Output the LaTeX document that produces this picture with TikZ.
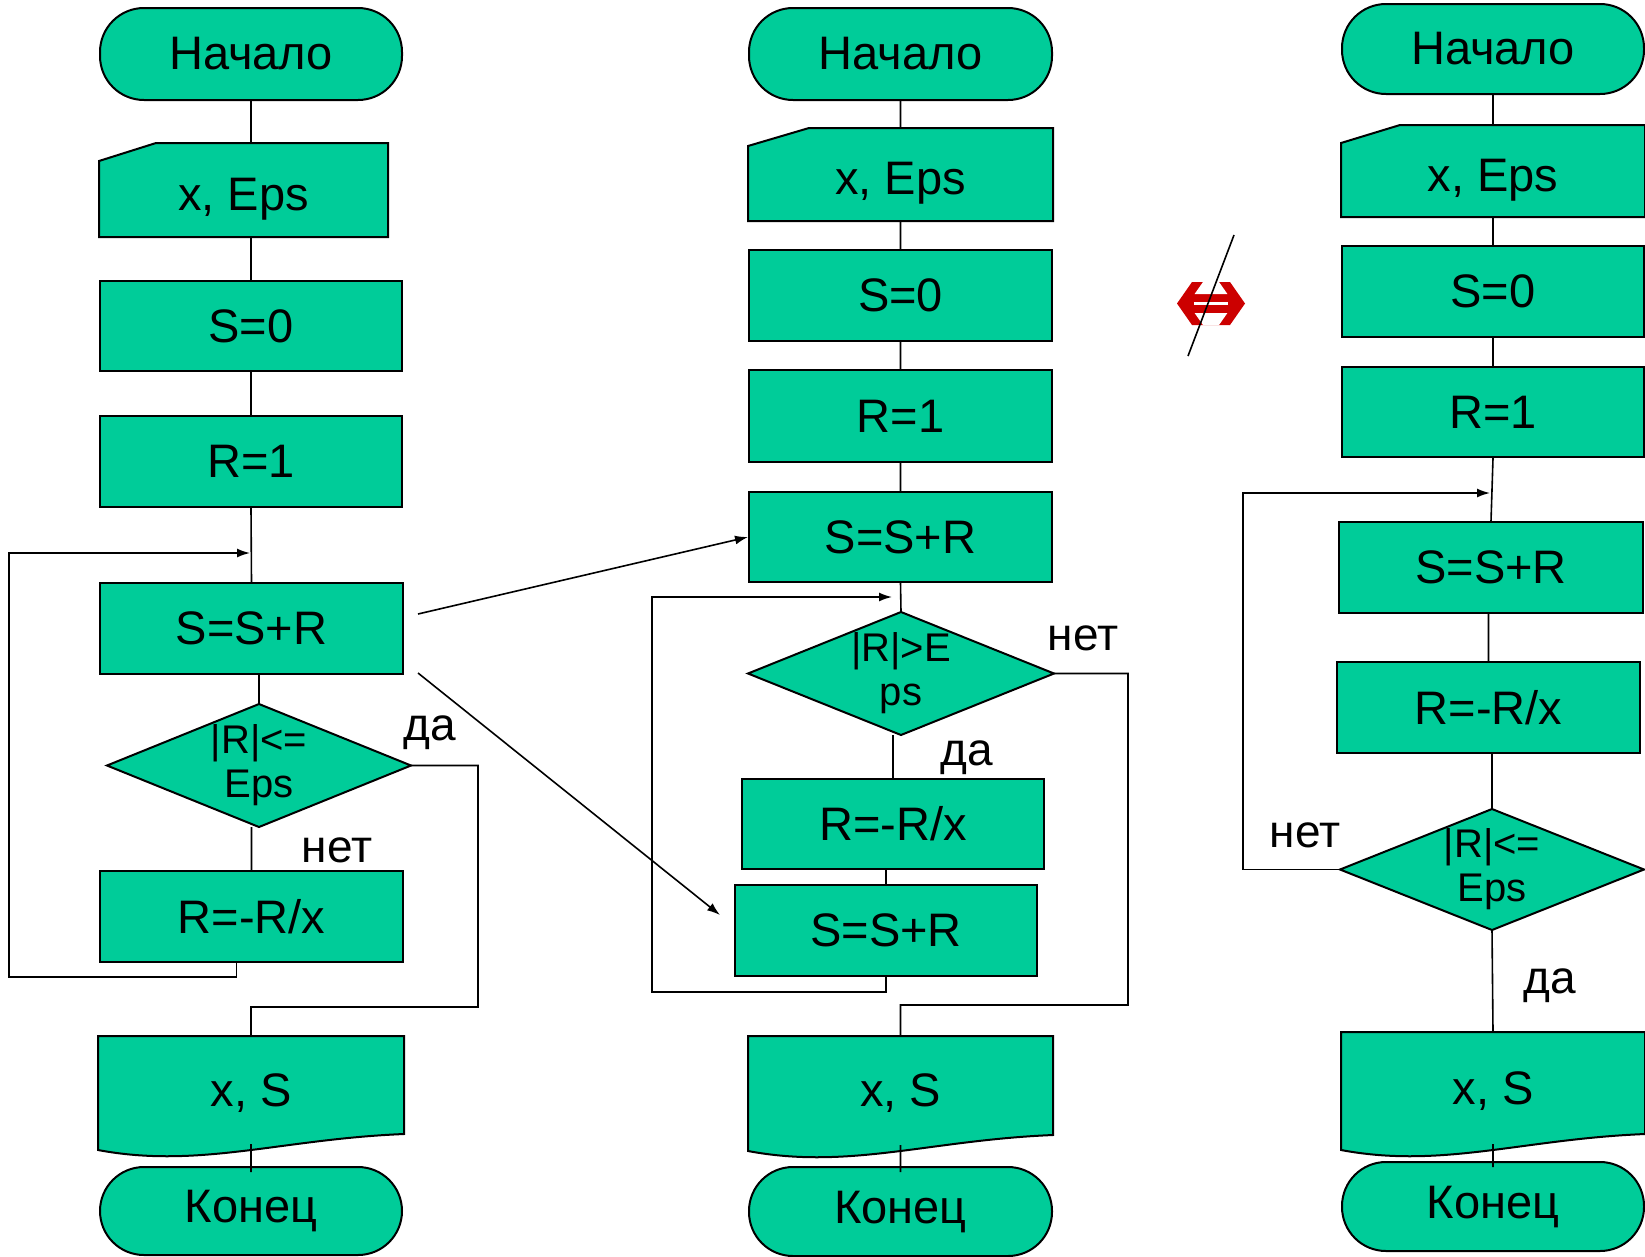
\documentclass[tikz,border=0pt]{standalone}
\usepackage{fontspec}
\setmainfont{Liberation Sans}
\usepackage{tikz}
\usetikzlibrary{positioning, arrows.meta}
\pgfdeclarelayer{bg}
\pgfsetlayers{bg,main}
\definecolor{blockgreen}{RGB}{0,204,153}
\definecolor{signred}{RGB}{204,0,0}

\tikzset{
  box/.style={draw, fill=blockgreen, line width=2pt, minimum width=302pt,
    minimum height=90pt, inner sep=0pt, font=\fontsize{47}{52}\selectfont},
  term/.style={box, rounded corners=44pt},
  hollow/.style={box, draw=none, fill=none},
  cond/.style={hollow, align=center, font=\fontsize{40}{44}\selectfont},
  lbl/.style={inner sep=0pt, font=\fontsize{46}{50}\selectfont},
  flow/.style={line width=1.6pt},
  arr/.style={flow, -{Latex[length=13pt, width=9pt]}},
}

\newcommand{\cardshape}[3]{%
  \draw[line width=2pt, fill=blockgreen]
    (#1.south west) -- (#1.north west) -- ([shift={(#3,-#2)}]#1.north west)
    -- ([shift={(0,-#2)}]#1.north east) -- (#1.south east) -- cycle;
  \coordinate (#1-top) at ([shift={(0,-#2)}]#1.north);
}
\newcommand{\docshape}[2]{%
  \draw[line width=2pt, fill=blockgreen]
    (#1.south west) -- (#1.north west) -- (#1.north east) -- ([shift={(0,-#2)}]#1.south east)
    .. controls ([shift={(-123,-11)}]#1.south east) and ([shift={(101,19)}]#1.south west) .. (#1.south west)
    -- cycle;
}
\newcommand{\decshape}[1]{%
  \draw[line width=2pt, fill=blockgreen] (#1.west) -- (#1.north) -- (#1.east) -- (#1.south) -- cycle;
}

\begin{document}
\begin{tikzpicture}[x=1pt, y=-1pt]
  \useasboundingbox (0,0) rectangle (1645,1256);

  \node[term, minimum height=92pt] (start1) at (251,54) {Начало};
  \node[hollow, minimum width=287pt, minimum height=74pt] (in1) at (243.5,199) {x, Eps};
  \node[box] (init1) at (251,326) {S=0};
  \node[box, minimum height=91pt] (r1) at (251,461.5) {R=1};
  \node[box, minimum width=303pt, minimum height=91pt] (sum1) at (251.5,628.5) {S=S+R};
  \node[cond, minimum height=121pt] (dec1) at (259,765.5) {|R|<=\\Eps};
  \node[box, minimum width=303pt, minimum height=91pt] (div1) at (251.5,916.5) {R=-R/x};
  \node[hollow, minimum width=304pt, minimum height=112pt] (out1) at (251,1093) {x, S};
  \node[term, minimum height=88pt] (end1) at (251,1211) {Конец};

  \node[term, minimum width=303pt, minimum height=92pt] (start2) at (900.5,54) {Начало};
  \node[hollow, minimum width=303pt, minimum height=73pt] (in2) at (900.5,183.5) {x, Eps};
  \node[box, minimum width=303pt, minimum height=91pt] (init2) at (900.5,295.5) {S=0};
  \node[box, minimum width=303pt, minimum height=92pt] (r2) at (900.5,416) {R=1};
  \node[box, minimum width=303pt] (sum2a) at (900.5,537) {S=S+R};
  \node[cond, minimum width=304pt, minimum height=121pt] (dec2) at (901,673.5) {|R|>E\\ps};
  \node[box] (div2) at (893,824) {R=-R/x};
  \node[box, minimum height=91pt] (sum2b) at (886,930.5) {S=S+R};
  \node[hollow, minimum width=303pt, minimum height=113pt] (out2) at (900.5,1093.5) {x, S};
  \node[term, minimum width=303pt, minimum height=89pt] (end2) at (900.5,1211.5) {Конец};

  \node[term] (start3) at (1493,49) {Начало};
  \node[hollow, minimum height=72pt] (in3) at (1493,180) {x, Eps};
  \node[box, minimum height=91pt] (init3) at (1493,291.5) {S=0};
  \node[box] (r3) at (1493,412) {R=1};
  \node[box, minimum width=304pt, minimum height=91pt] (sum3) at (1491,567.5) {S=S+R};
  \node[box, minimum width=303pt, minimum height=91pt] (div3) at (1488.5,707.5) {R=-R/x};
  \node[cond, minimum height=119pt] (dec3) at (1492,869.5) {|R|<=\\Eps};
  \node[hollow, minimum height=116pt] (out3) at (1493,1091) {x, S};
  \node[term, minimum height=89pt] (end3) at (1493,1206.5) {Конец};

  \begin{pgfonlayer}{bg}
    \cardshape{in1}{18}{57}
    \cardshape{in2}{18}{61}
    \cardshape{in3}{18}{59}
    \decshape{dec1}
    \decshape{dec2}
    \decshape{dec3}
    \docshape{out1}{16}
    \docshape{out2}{16}
    \docshape{out3}{16}
  \end{pgfonlayer}

  \node[lbl] (yes1) at (430,733) {да};
  \node[lbl] (no1) at (337,850) {нет};
  \node[lbl] (no2) at (1083,638) {нет};
  \node[lbl] (yes2) at (967,758) {да};
  \node[lbl] (no3) at (1305,835) {нет};
  \node[lbl] (yes3) at (1550,986) {да};

  \coordinate (lp1) at (9,553);
  \coordinate (jn1) at (250,553);
  \coordinate (ex1) at (478,1007);
  \coordinate (lp2) at (652,597);
  \coordinate (jn2) at (892,597);
  \coordinate (ex2) at (1128,1005);
  \coordinate (lp3) at (1243,493);
  \coordinate (jn3) at (1490,493);
  \coordinate (a1) at (418,614);
  \coordinate (a2) at (418,673);
  \coordinate (b2) at (720,915);

  \begin{scope}[flow]
    \draw
      (start1.south) -- (start1.south |- in1-top)
      (init1.north |- in1.south) -- (init1.north)
      (init1.south) -- (r1.north)
      (r1.south) -- (sum1.north)
      (dec1.north |- sum1.south) -- (dec1.north)
      (div1.north |- dec1.south) -- (div1.north)
      (dec1.east) -| (ex1) -| (out1.north)
      ([shift={(0,-6)}]out1.south) -- ([shift={(0,6)}]end1.north);
    \draw[arr]
      ([shift={(-15,0)}]div1.south) -- ++(0,14) -| (lp1) -- (jn1);

    \draw
      (start2.south) -- (start2.south |- in2-top)
      (init2.north |- in2.south) -- (init2.north)
      (init2.south) -- (r2.north)
      (r2.south) -- (sum2a.north)
      (sum2a.south) -- (dec2.north)
      (div2.north |- dec2.south) -- (div2.north)
      (sum2b.north |- div2.south) -- (sum2b.north)
      (dec2.east) -| (ex2) -| (out2.north)
      ([shift={(0,-6)}]out2.south) -- ([shift={(0,6)}]end2.north);
    \draw[arr]
      (sum2b.south) -- ++(0,15) -| (lp2) -- (jn2);

    \draw
      (start3.south) -- (start3.south |- in3-top)
      (init3.north |- in3.south) -- (init3.north)
      (init3.south) -- (r3.north)
      (r3.south) -- (sum3.north)
      (div3.north |- sum3.south) -- (div3.north)
      (dec3.north |- div3.south) -- (dec3.north)
      (dec3.south) -- (out3.north)
      ([shift={(0,-6)}]out3.south) -- ([shift={(0,6)}]end3.north);
    \draw[arr]
      (dec3.west) -| (lp3) -- (jn3);

    \draw[arr] (a1) -- (sum2a.west);
    \draw[arr] (a2) -- (b2);
  \end{scope}

  \fill[signred] (1177,303.5) -- (1192,282) -- (1230,282) -- (1245,303.5)
    -- (1230,325) -- (1192,325) -- cycle;
  \fill[white] (1203,282) -- (1219,282) -- (1227.4,294) -- (1194.6,294) -- cycle;
  \fill[white] (1194.6,313) -- (1227.4,313) -- (1219,325) -- (1203,325) -- cycle;
  \fill[white] (1194,302) rectangle (1228,305);
  \draw[line width=1.6pt] (1188,356) -- (1234,235);
\end{tikzpicture}
\end{document}
